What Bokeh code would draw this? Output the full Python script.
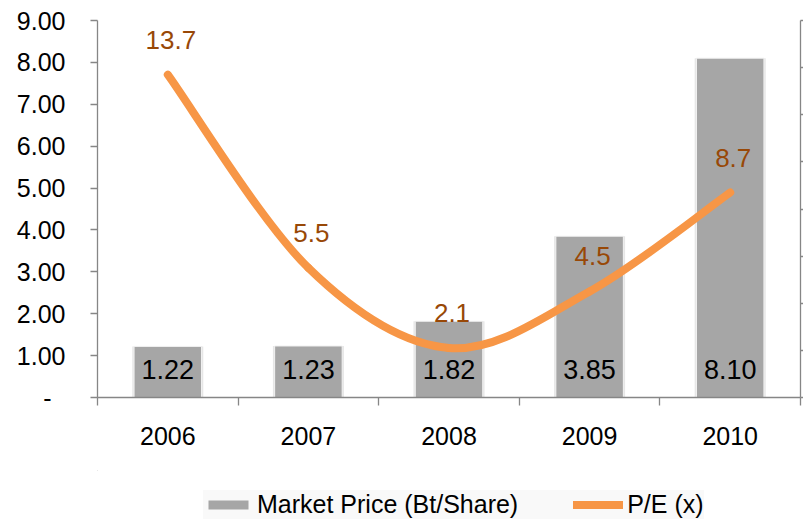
from bokeh.plotting import figure
from bokeh.models import (ColumnDataSource, Range1d, LinearAxis, FixedTicker,
                          Legend, LegendItem)
from bokeh.layouts import column
from bokeh.core.properties import value
from bokeh.embed import file_html
from bokeh.resources import INLINE

# ---- data ----
years = ["2006", "2007", "2008", "2009", "2010"]
market_price = [1.22, 1.23, 1.82, 3.85, 8.10]
pe_ratio = [13.7, 5.5, 2.1, 4.5, 8.7]
left_ticks = [0, 1, 2, 3, 4, 5, 6, 7, 8, 9]
right_ticks = [0, 2, 4, 6, 8, 10, 12, 14, 16]
series_names = ["Market Price (Bt/Share)", "P/E (x)"]

FONT = "Liberation Sans"
AXIS_GRAY = "#868686"
BAR_GRAY = "#A6A6A6"
ORANGE = "#F79646"
BROWN = "#984807"

xs = list(range(len(years)))

p = figure(width=803, height=470, output_backend="svg", toolbar_location=None,
           x_range=Range1d(-0.5, len(years) - 0.5), y_range=Range1d(0, 9),
           min_border_left=97, min_border_right=0, min_border_top=20,
           min_border_bottom=73)
p.extra_y_ranges = {"pe": Range1d(0, 16)}
p.outline_line_color = None
p.xgrid.visible = False
p.ygrid.visible = False
p.background_fill_color = "white"
p.border_fill_color = "white"

# ---- bars ----
bar_src = ColumnDataSource(dict(
    x=xs, top=market_price,
    label=[f"{v:.2f}" for v in market_price],
    zero=[0] * len(xs)))
p.vbar(x="x", top="top", bottom=-0.06, width=0.505, source=bar_src,
       fill_color="#e6e6e6", line_color=None)
p.vbar(x="x", top="top", width=0.48, source=bar_src,
       fill_color=BAR_GRAY, line_color="#f2f2f2", line_width=1)
p.text(x="x", y="zero", text="label", source=bar_src, y_offset=-28,
       text_align="center", text_baseline="middle",
       text_font=value(FONT), text_font_size="27px", text_color="black")

# ---- smoothed P/E line (Catmull-Rom style bezier segments) ----
n = len(pe_ratio)
x0, y0, x1, y1, cx0, cy0, cx1, cy1 = [], [], [], [], [], [], [], []
for i in range(n - 1):
    pa = (xs[max(i - 1, 0)], pe_ratio[max(i - 1, 0)])
    pb = (xs[i], pe_ratio[i])
    pc = (xs[i + 1], pe_ratio[i + 1])
    pd = (xs[min(i + 2, n - 1)], pe_ratio[min(i + 2, n - 1)])
    x0.append(pb[0]); y0.append(pb[1])
    x1.append(pc[0]); y1.append(pc[1])
    cx0.append(pb[0] + (pc[0] - pa[0]) / 6.0)
    cy0.append(pb[1] + (pc[1] - pa[1]) / 6.0)
    cx1.append(pc[0] - (pd[0] - pb[0]) / 6.0)
    cy1.append(pc[1] - (pd[1] - pb[1]) / 6.0)
bez_src = ColumnDataSource(dict(x0=x0, y0=y0, x1=x1, y1=y1,
                                cx0=cx0, cy0=cy0, cx1=cx1, cy1=cy1))
p.bezier(x0="x0", y0="y0", x1="x1", y1="y1", cx0="cx0", cy0="cy0",
         cx1="cx1", cy1="cy1", source=bez_src, y_range_name="pe",
         line_color=ORANGE, line_width=8, line_cap="round")

pe_src = ColumnDataSource(dict(x=xs, y=pe_ratio,
                               label=[f"{v:.1f}" for v in pe_ratio]))
p.text(x="x", y="y", text="label", source=pe_src, y_range_name="pe",
       x_offset=3, y_offset=-35, text_align="center", text_baseline="middle",
       text_font=value(FONT), text_font_size="26px", text_color=BROWN)

# ---- axes ----
xa = p.xaxis[0]
xa.ticker = FixedTicker(ticks=xs, minor_ticks=[i - 0.5 for i in range(len(years) + 1)])
xa.major_label_overrides = {i: y for i, y in zip(xs, years)}
xa.major_tick_out = 0
xa.major_tick_in = 0
xa.minor_tick_out = 8
xa.minor_tick_in = 0
xa.minor_tick_line_color = AXIS_GRAY
xa.minor_tick_line_width = 1.3
xa.axis_line_color = AXIS_GRAY
xa.axis_line_width = 1.3
xa.major_label_text_font = FONT
xa.major_label_text_font_size = "25px"
xa.major_label_text_color = "black"
xa.major_label_standoff = 21

ya = p.yaxis[0]
ya.ticker = FixedTicker(ticks=left_ticks)
ya.major_label_overrides = {t: ("-\u2007" if t == 0 else f"{t:.2f}") for t in left_ticks}
ya.major_tick_out = 7
ya.major_tick_in = 0
ya.minor_tick_line_color = None
ya.major_tick_line_color = AXIS_GRAY
ya.major_tick_line_width = 1.3
ya.axis_line_color = AXIS_GRAY
ya.axis_line_width = 1.3
ya.major_label_text_font = FONT
ya.major_label_text_font_size = "25px"
ya.major_label_text_color = "black"
ya.major_label_standoff = 25

ra = LinearAxis(y_range_name="pe", ticker=FixedTicker(ticks=right_ticks))
ra.major_label_overrides = {t: "" for t in right_ticks}
ra.major_label_text_font_size = "0px"
ra.major_label_standoff = 0
ra.major_tick_out = 3
ra.major_tick_in = 0
ra.minor_tick_line_color = None
ra.major_tick_line_color = AXIS_GRAY
ra.major_tick_line_width = 1.3
ra.axis_line_color = AXIS_GRAY
ra.axis_line_width = 1.3
p.add_layout(ra, "right")

# ---- legend strip (separate figure below the chart) ----
# the strip's ranges keep its sample glyphs out of view; only the legend shows
lg = figure(width=803, height=49, output_backend="svg", toolbar_location=None,
            x_range=Range1d(100, 101), y_range=Range1d(-100, -99),
            x_axis_type=None, y_axis_type=None,
            min_border_left=0, min_border_right=0, min_border_top=0,
            min_border_bottom=0)
lg.outline_line_color = None
lg.xgrid.visible = False
lg.ygrid.visible = False
lg_bar = lg.vbar(x=xs, top=market_price, width=0.48, fill_color=BAR_GRAY,
                 line_color=None)
lg_line = lg.line(x=xs, y=pe_ratio, line_color=ORANGE, line_width=8,
                  line_cap="round")
legend = Legend(items=[LegendItem(label=series_names[0], renderers=[lg_bar]),
                       LegendItem(label=series_names[1], renderers=[lg_line])],
                orientation="horizontal", location=(106, 0),
                glyph_width=50, glyph_height=11, label_height=24,
                label_standoff=4, spacing=55, padding=5, margin=0,
                label_text_font=FONT, label_text_font_size="25px",
                label_text_color="black", background_fill_color="#f9f9f9",
                background_fill_alpha=1.0, border_line_color=None)
lg.add_layout(legend, "center")

layout = column(p, lg, spacing=0)
open("out.html", "w").write(file_html(layout, INLINE))
